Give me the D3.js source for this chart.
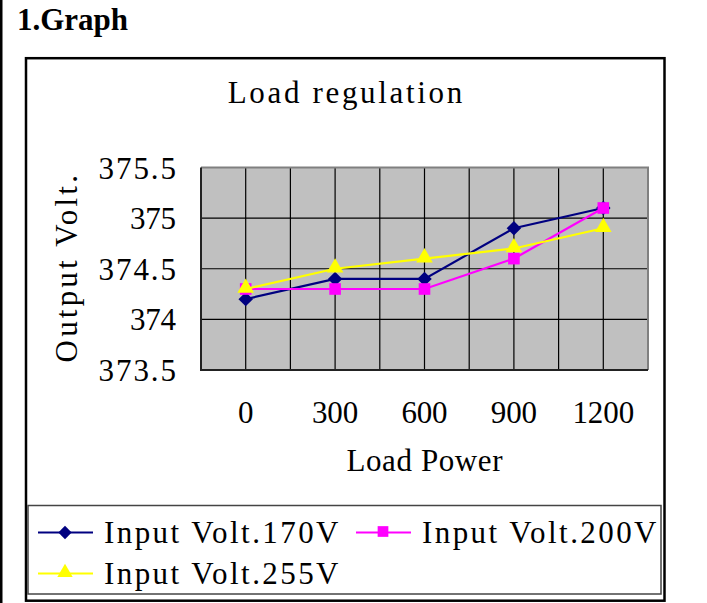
<!DOCTYPE html>
<html>
<head>
<meta charset="utf-8">
<script src="https://cdn.jsdelivr.net/npm/d3@7"></script>
<style>
  body { margin: 0; background: #fff; }
</style>
</head>
<body>
<div id="chart"></div>
<script>
// data
const loads = ['0', '300', '600', '900', '1200']
const volt170 = [374.2, 374.4, 374.4, 374.9, 375.1]
const volt200 = [374.3, 374.3, 374.3, 374.6, 375.1]
const volt255 = [374.3, 374.5, 374.6, 374.7, 374.9]
const yTicks = [373.5, 374, 374.5, 375, 375.5]
const seriesNames = ['Input Volt.170V', 'Input Volt.200V', 'Input Volt.255V']

const W = 707
const H = 603
const font = "'Liberation Serif', 'Times New Roman', serif"
const fs = 31
const cw = 15.7 // width of one monospace cell in the reference

const plot = { left: 201, right: 648, top: 167.5, bottom: 370 }

const svg = d3
  .select('#chart')
  .append('svg')
  .attr('width', W)
  .attr('height', H)
  .style('display', 'block')

// spread text out like the half-width CJK font of the original
function mono(sel) {
  sel
    .attr('textLength', function() {
      return this.textContent.length * cw - 1
    })
    .attr('lengthAdjust', 'spacing')
}

// page frame + heading
svg.append('rect').attr('x', 0).attr('y', 0).attr('width', 2.5).attr('height', H).attr('fill', '#000')
svg
  .append('text')
  .attr('x', 17)
  .attr('y', 29.5)
  .attr('font-family', font)
  .attr('font-weight', 'bold')
  .attr('font-size', 31)
  .text('1.Graph')

// chart box
svg
  .append('rect')
  .attr('x', 26)
  .attr('y', 58.2)
  .attr('width', 638.5)
  .attr('height', 542.5)
  .attr('fill', 'none')
  .attr('stroke', '#000')
  .attr('stroke-width', 2.5)

svg
  .append('text')
  .attr('x', 345)
  .attr('y', 103)
  .attr('text-anchor', 'middle')
  .attr('font-family', font)
  .attr('font-size', fs)
  .text('Load regulation')
  .call(mono)

const x = d3
  .scaleBand()
  .domain(loads)
  .range([plot.left, plot.right])

const y = d3
  .scaleLinear()
  .domain([373.5, 375.5])
  .range([plot.bottom, plot.top])

const cx = d => x(d) + x.bandwidth() / 2

// plot background
svg
  .append('rect')
  .attr('x', plot.left)
  .attr('y', plot.top)
  .attr('width', plot.right - plot.left)
  .attr('height', plot.bottom - plot.top)
  .attr('fill', '#c0c0c0')

// grid: horizontal at ticks, vertical at category centres and borders
svg
  .selectAll('.hgrid')
  .data(yTicks.slice(1, -1))
  .enter()
  .append('line')
  .attr('class', 'hgrid')
  .attr('x1', plot.left)
  .attr('x2', plot.right)
  .attr('y1', d => y(d))
  .attr('y2', d => y(d))
  .attr('stroke', '#000')
  .attr('stroke-width', 1.2)

const vLines = loads.map(cx).concat(loads.slice(1).map(d => x(d)))
svg
  .selectAll('.vgrid')
  .data(vLines)
  .enter()
  .append('line')
  .attr('class', 'vgrid')
  .attr('x1', d => d)
  .attr('x2', d => d)
  .attr('y1', plot.top)
  .attr('y2', plot.bottom)
  .attr('stroke', '#000')
  .attr('stroke-width', 1.2)

// plot border: grey top/right, dark left/bottom
svg
  .append('path')
  .attr('d', `M${plot.left},${plot.top}H${plot.right}V${plot.bottom}`)
  .attr('fill', 'none')
  .attr('stroke', '#808080')
  .attr('stroke-width', 2)
svg
  .append('path')
  .attr('d', `M${plot.left},${plot.top}V${plot.bottom}H${plot.right}`)
  .attr('fill', 'none')
  .attr('stroke', '#222')
  .attr('stroke-width', 2)

// axes (labels only)
const yAxis = svg
  .append('g')
  .attr('transform', `translate(${plot.left},0)`)
  .call(
    d3
      .axisLeft(y)
      .tickValues(yTicks)
      .tickSize(0)
      .tickPadding(25)
      .tickFormat(d => String(d))
  )
yAxis.select('.domain').remove()
yAxis
  .selectAll('text')
  .attr('font-family', font)
  .attr('font-size', fs)
  .attr('fill', '#000')
  .attr('dy', 10.5)
  .call(mono)

const xAxis = svg
  .append('g')
  .attr('transform', `translate(0,${plot.bottom})`)
  .call(d3.axisBottom(x).tickSize(0))
xAxis.select('.domain').remove()
xAxis
  .selectAll('text')
  .attr('font-family', font)
  .attr('font-size', fs)
  .attr('fill', '#000')
  .attr('y', 53)
  .attr('dy', 0)
  .call(mono)

svg
  .append('text')
  .attr('x', (plot.left + plot.right) / 2)
  .attr('y', 471)
  .attr('text-anchor', 'middle')
  .attr('font-family', font)
  .attr('font-size', fs)
  .text('Load Power')
  .call(mono)

svg
  .append('text')
  .attr('transform', `translate(77,${(plot.top + plot.bottom) / 2}) rotate(-90)`)
  .attr('text-anchor', 'middle')
  .attr('font-family', font)
  .attr('font-size', fs)
  .text('Output Volt.')
  .call(mono)

// series
const series = [
  { name: seriesNames[0], values: volt170, color: '#000080', shape: 'diamond' },
  { name: seriesNames[1], values: volt200, color: '#ff00ff', shape: 'square' },
  { name: seriesNames[2], values: volt255, color: '#ffff00', shape: 'triangle' }
]

function marker(shape, s) {
  if (shape === 'diamond') return d3.symbol(d3.symbolSquare, 105 * s)()
  if (shape === 'square') return d3.symbol(d3.symbolSquare, 135 * s)()
  return d3.symbol(d3.symbolTriangle, 120 * s)()
}

const line = d3
  .line()
  .x((d, i) => cx(loads[i]))
  .y(d => y(d))

series.forEach(s => {
  svg
    .append('path')
    .attr('d', line(s.values))
    .attr('fill', 'none')
    .attr('stroke', s.color)
    .attr('stroke-width', 2.2)

  svg
    .selectAll(null)
    .data(s.values)
    .enter()
    .append('path')
    .attr('d', marker(s.shape, 1))
    .attr('transform', (d, i) => {
      const rot = s.shape === 'diamond' ? ' rotate(45)' : ''
      const dy = s.shape === 'triangle' ? -1 : 0
      return `translate(${cx(loads[i])},${y(d) + dy})${rot}`
    })
    .attr('fill', s.color)
})

// legend
svg
  .append('rect')
  .attr('x', 28)
  .attr('y', 505.5)
  .attr('width', 633)
  .attr('height', 88.5)
  .attr('fill', 'none')
  .attr('stroke', '#444')
  .attr('stroke-width', 1.5)

const legendPos = [
  { x: 38, y: 532.5 },
  { x: 356, y: 532.5 },
  { x: 38, y: 573.5 }
]

const legend = svg
  .selectAll('.legend')
  .data(series)
  .enter()
  .append('g')
  .attr('class', 'legend')
  .attr('transform', (d, i) => `translate(${legendPos[i].x},${legendPos[i].y})`)

legend
  .append('line')
  .attr('x1', 0)
  .attr('x2', 55)
  .attr('stroke', d => d.color)
  .attr('stroke-width', 2.2)

legend
  .append('path')
  .attr('d', d => marker(d.shape, 0.85))
  .attr('transform', d => (d.shape === 'diamond' ? 'translate(27,0) rotate(45)' : 'translate(27,-1)'))
  .attr('fill', d => d.color)

legend
  .append('text')
  .attr('x', 66)
  .attr('y', 10.5)
  .attr('font-family', font)
  .attr('font-size', fs)
  .text(d => d.name)
  .call(mono)
</script>
</body>
</html>
